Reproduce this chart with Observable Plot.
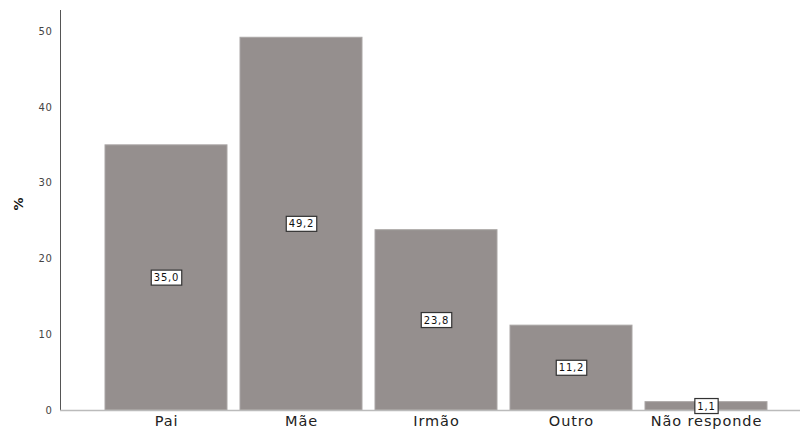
<!DOCTYPE html>
<html>
<head>
<meta charset="utf-8">
<script src="https://cdn.jsdelivr.net/npm/d3@7"></script>
<script src="https://cdn.jsdelivr.net/npm/@observablehq/plot@0.6"></script>
<style>
  html, body { margin: 0; padding: 0; background: #fff; }
  #chart { width: 804px; height: 432px; }
</style>
</head>
<body>
<div id="chart"></div>
<script>
const categories = ["Pai", "Mãe", "Irmão", "Outro", "Não responde"];
const values = [35.0, 49.2, 23.8, 11.2, 1.1];
const yTicks = [0, 10, 20, 30, 40, 50];

const data = categories.map((c, i) => ({cat: c, v: values[i]}));
const fmt = v => v.toFixed(1).replace(".", ",");

const plot = Plot.plot({
  width: 804,
  height: 432,
  marginLeft: 60,
  marginRight: 4,
  marginTop: 10,
  marginBottom: 22,
  style: {fontFamily: "DejaVu Sans, sans-serif", background: "#fff"},
  x: {domain: categories, paddingInner: 0.1, paddingOuter: 0.05, insetLeft: 37, insetRight: 25, label: null},
  y: {domain: [0, 52.8], label: null},
  marks: [
    Plot.barY(data, {x: "cat", y: "v", fill: "#958f8e", stroke: "#aaa6a5", strokeWidth: 1}),
    Plot.frame({anchor: "left", stroke: "#555"}),
    Plot.ruleY([0], {stroke: "#bbb", strokeWidth: 1.5}),
    Plot.axisY({ticks: yTicks, tickSize: 0, tickPadding: 8, fontSize: 10, fill: "#444", label: null}),
    Plot.axisX({tickSize: 0, tickPadding: 5, fontSize: 14.5, fill: "#222", label: null}),
    Plot.text(data, {x: "cat", y: d => d.v / 2, text: d => fmt(d.v), fontSize: 10, fill: "#111"}),
    Plot.text(["%"], {frameAnchor: "left", dx: -42, rotate: -90, fontSize: 13, fontWeight: "bold", fill: "#111"})
  ]
});

document.getElementById("chart").appendChild(plot);

const svg = d3.select(plot);
svg.selectAll('g[aria-label="x-axis tick label"] text').style("letter-spacing", "0.9px");
svg.selectAll('g[aria-label="y-axis tick label"] text').style("letter-spacing", "0.6px");

// boxes behind value labels
const labelSet = new Set(values.map(fmt));
svg.selectAll('g[aria-label="text"] text').each(function() {
  if (!labelSet.has(this.textContent)) return;
  this.style.letterSpacing = "0.8px";
  const bb = this.getBBox();
  const padX = 2.5, padY = 2;
  const r = document.createElementNS("http://www.w3.org/2000/svg", "rect");
  r.setAttribute("x", bb.x - padX);
  r.setAttribute("y", bb.y - padY);
  r.setAttribute("width", bb.width + 2 * padX);
  r.setAttribute("height", bb.height + 2 * padY);
  const t = this.getAttribute("transform");
  if (t) r.setAttribute("transform", t);
  r.setAttribute("fill", "#fff");
  r.setAttribute("stroke", "#333");
  r.setAttribute("stroke-width", "1.2");
  this.parentNode.insertBefore(r, this);
});
</script>
</body>
</html>
